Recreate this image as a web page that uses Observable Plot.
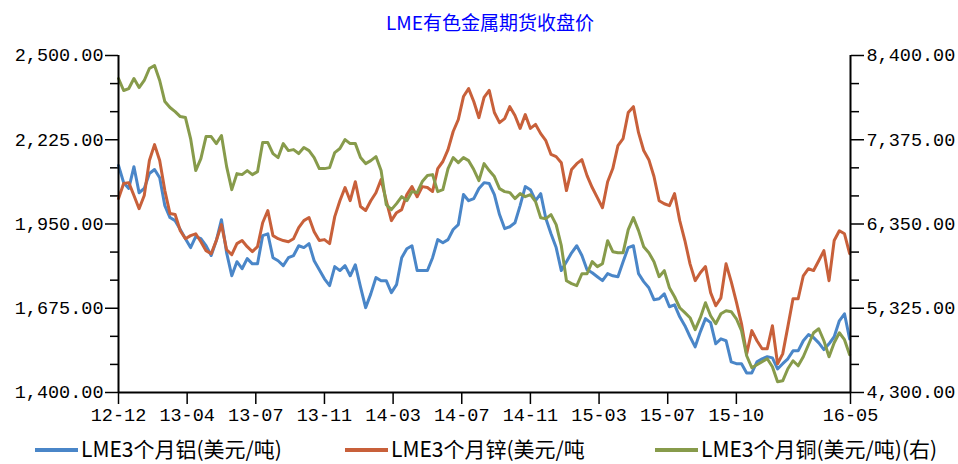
<!DOCTYPE html>
<html>
<head>
<meta charset="utf-8">
<script src="https://cdn.jsdelivr.net/npm/d3@7"></script>
<script src="https://cdn.jsdelivr.net/npm/@observablehq/plot@0.6"></script>
<style>
  body { margin: 0; background: #fff; width: 958px; height: 464px; overflow: hidden; position: relative; }
  #title { position: absolute; top: 0; left: 490px; transform: translateX(-50%); height: 44px; line-height: 44px;
           font-family: "Noto Sans CJK SC", "Noto Sans", sans-serif; font-size: 19px; color: #0000ff; white-space: nowrap; }
  #chart { position: absolute; top: 44px; left: 0; }
  .leg { position: absolute; top: 435px; height: 26px; line-height: 26px; font-family: "Noto Sans CJK SC", "Noto Sans", sans-serif;
         font-size: 21px; color: #000; white-space: nowrap; }
  .sw { display: inline-block; width: 43px; height: 4px; vertical-align: middle; margin-right: 3px; position: relative; top: -1px; }
</style>
</head>
<body>
<div id="title">LME有色金属期货收盘价</div>
<div id="chart"></div>
<div id="legend"></div>
<script>
// Series names
const seriesNames = ["LME3个月铝(美元/吨)", "LME3个月锌(美元/吨", "LME3个月铜(美元/吨)(右)"];
const seriesColors = ["#4A86C8", "#C8603A", "#879B4B"];

// X axis (trading-day index), tick labels
const dayStep = 6;
const lastDay = 853;
const tickDays = [0, 80, 160, 240, 320, 400, 480, 560, 640, 720, 853];
const tickLabels = ["12-12","13-04","13-07","13-11","14-03","14-07","14-11","15-03","15-07","15-10","16-05"];

// LME 3-month aluminium (USD/t), left axis
const al = [
  2141, 2085, 2066, 2137, 2052, 2066, 2115, 2128, 2101, 2010,
  1971, 1961, 1932, 1902, 1873, 1909, 1902, 1879, 1847, 1896,
  1964, 1856, 1781, 1827, 1804, 1837, 1820, 1820, 1912, 1918,
  1840, 1830, 1814, 1840, 1847, 1879, 1873, 1886, 1830, 1801,
  1771, 1749, 1811, 1798, 1814, 1781, 1817, 1745, 1677, 1722,
  1775, 1765, 1765, 1726, 1752, 1840, 1869, 1879, 1798, 1798,
  1798, 1840, 1899, 1889, 1899, 1932, 1948, 2046, 2026, 2033,
  2066, 2085, 2082, 2046, 1981, 1935, 1941, 1954, 2010, 2072,
  2062, 2026, 2049, 1968, 1918, 1873, 1798, 1827, 1856, 1879,
  1847, 1801, 1791, 1778, 1765, 1788, 1781, 1778, 1827, 1873,
  1879, 1788, 1762, 1742, 1703, 1706, 1722, 1680, 1686, 1647,
  1618, 1582, 1549, 1598, 1641, 1628, 1559, 1575, 1569, 1500,
  1494, 1494, 1464, 1464, 1500, 1510, 1517, 1513, 1477, 1494,
  1510, 1536, 1536, 1569, 1589, 1579, 1562, 1540, 1559, 1582,
  1634, 1657, 1575
];

// LME 3-month zinc (USD/t), left axis
const zn = [
  2033, 2082, 2085, 2043, 2000, 2043, 2157, 2209, 2157, 2059,
  1984, 1981, 1928, 1902, 1912, 1918, 1892, 1863, 1853, 1896,
  1948, 1866, 1850, 1886, 1896, 1876, 1860, 1876, 1954, 1994,
  1912, 1902, 1896, 1892, 1902, 1938, 1961, 1971, 1925, 1896,
  1899, 1886, 1974, 2026, 2069, 2026, 2088, 2007, 1994, 2026,
  2052, 2095, 2026, 1961, 1987, 1997, 2046, 2072, 2039, 2072,
  2069, 2056, 2131, 2154, 2193, 2252, 2291, 2366, 2392, 2350,
  2297, 2363, 2386, 2314, 2281, 2294, 2333, 2304, 2262, 2307,
  2262, 2275, 2245, 2222, 2177, 2170, 2150, 2059, 2128, 2147,
  2160, 2108, 2069, 2036, 2003, 2088, 2131, 2206, 2229, 2314,
  2333, 2248, 2190, 2160, 2105, 2026, 2016, 2010, 2049, 1961,
  1896, 1820, 1765, 1791, 1811, 1726, 1683, 1709, 1820, 1762,
  1696, 1624, 1526, 1602, 1569, 1543, 1543, 1618, 1494, 1526,
  1615, 1706, 1706, 1781, 1804, 1798, 1830, 1863, 1765, 1896,
  1928, 1918, 1853
];

// LME 3-month copper (USD/t), right axis
const cu = [
  8120, 7974, 7998, 8120, 8010, 8096, 8242, 8278, 8096, 7840,
  7767, 7718, 7657, 7645, 7389, 7000, 7146, 7414, 7414, 7328,
  7426, 7048, 6768, 6963, 6951, 7000, 6951, 6987, 7341, 7341,
  7207, 7158, 7328, 7243, 7255, 7207, 7280, 7243, 7158, 7024,
  7024, 7036, 7219, 7268, 7377, 7328, 7328, 7158, 7085, 7121,
  7170, 7000, 6586, 6525, 6598, 6683, 6634, 6744, 6732, 6866,
  6939, 6951, 6744, 6768, 7024, 7158, 7097, 7158, 7121, 7012,
  6878, 7085, 7000, 6927, 6780, 6744, 6732, 6659, 6720, 6683,
  6707, 6622, 6427, 6415, 6464, 6342, 6086, 5660, 5624, 5599,
  5745, 5745, 5892, 5831, 5867, 6147, 6013, 6001, 6001, 6281,
  6427, 6269, 6074, 6001, 5892, 5709, 5782, 5575, 5465, 5331,
  5271, 5210, 5064, 5210, 5392, 5234, 5137, 5258, 5295, 5283,
  5197, 5051, 4747, 4601, 4637, 4674, 4710, 4613, 4430, 4442,
  4589, 4686, 4625, 4735, 4881, 5027, 5076, 4930, 4735, 4905,
  5027, 4942, 4759
];

// Axis ranges
const leftMin = 1400, leftMax = 2500, leftStep = 275;
const rightMin = 4300, rightMax = 8400;

const toLeft = v => leftMin + (v - rightMin) * (leftMax - leftMin) / (rightMax - rightMin);
const toRight = v => rightMin + (v - leftMin) * (rightMax - rightMin) / (leftMax - leftMin);

const majorTicks = d3.range(leftMin, leftMax + 1, leftStep);
const minorTicks = d3.range(0, 13).map(i => leftMin + i * leftStep / 3).filter((v, i) => i % 3 !== 0);
const fmt = d3.format(",.2f");

const rowsAl = al.map((v, i) => ({day: i * dayStep, v}));
const rowsZn = zn.map((v, i) => ({day: i * dayStep, v}));
const rowsCu = cu.map((v, i) => ({day: i * dayStep, v: toLeft(v)}));

const chart = Plot.plot({
  width: 958,
  height: 390,
  marginLeft: 118,
  marginRight: 108,
  marginTop: 11,
  marginBottom: 42,
  x: {type: "linear", domain: [0, lastDay]},
  y: {domain: [leftMin, leftMax]},
  style: {fontFamily: "'Liberation Mono', monospace", fontSize: "18.5px", color: "#000", background: "#fff", overflow: "visible"},
  marks: [
    Plot.axisY({anchor: "left", ticks: majorTicks, tickSize: 13, tickPadding: 2, tickFormat: fmt, label: null, stroke: "#000", strokeWidth: 1.5}),
    Plot.axisY({anchor: "left", ticks: minorTicks, tickSize: 8, tickFormat: () => "", label: null, stroke: "#000", strokeWidth: 1.5}),
    Plot.axisY({anchor: "right", ticks: majorTicks, tickSize: 13, tickPadding: 3, tickFormat: d => fmt(toRight(d)), label: null, stroke: "#000", strokeWidth: 1.5}),
    Plot.axisY({anchor: "right", ticks: minorTicks, tickSize: 8, tickFormat: () => "", label: null, stroke: "#000", strokeWidth: 1.5}),
    Plot.axisX({ticks: tickDays, tickSize: 12, tickPadding: 3, tickFormat: d => tickLabels[tickDays.indexOf(d)], label: null, stroke: "#000", strokeWidth: 1.5}),
    Plot.lineY(rowsAl, {x: "day", y: "v", stroke: seriesColors[0], strokeWidth: 3, strokeLinejoin: "round"}),
    Plot.lineY(rowsZn, {x: "day", y: "v", stroke: seriesColors[1], strokeWidth: 3, strokeLinejoin: "round"}),
    Plot.lineY(rowsCu, {x: "day", y: "v", stroke: seriesColors[2], strokeWidth: 3, strokeLinejoin: "round"}),
    Plot.ruleX([0, lastDay], {stroke: "#000", strokeWidth: 2}),
    Plot.ruleY([leftMin], {stroke: "#000", strokeWidth: 2})
  ]
});
document.getElementById("chart").appendChild(chart);

// Legend
const legendLeft = [35, 345, 655];
const legend = document.getElementById("legend");
seriesNames.forEach((name, i) => {
  const item = document.createElement("div");
  item.className = "leg";
  item.style.left = legendLeft[i] + "px";
  const sw = document.createElement("span");
  sw.className = "sw";
  sw.style.background = seriesColors[i];
  item.appendChild(sw);
  item.appendChild(document.createTextNode(name));
  legend.appendChild(item);
});
</script>
</body>
</html>
